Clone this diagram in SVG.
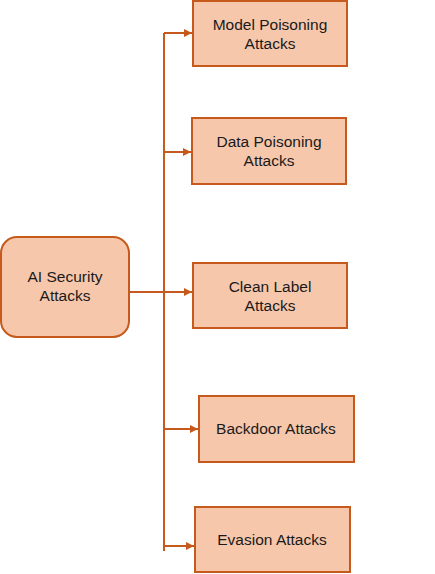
<svg xmlns="http://www.w3.org/2000/svg" width="435" height="574" viewBox="0 0 435 574">
<style>
.box{fill:#F7C7AB;stroke:#C55A1C;stroke-width:2}
.t{font-family:"Liberation Sans",Arial,sans-serif;font-size:15.5px;fill:#1a1a1a;text-anchor:middle}
.c{fill:none;stroke:#C55A1C;stroke-width:2}
</style>
<defs>
<marker id="ah" markerWidth="9" markerHeight="10" refX="8" refY="5" orient="auto" markerUnits="userSpaceOnUse">
<path d="M0,1 L8,5 L0,9 Z" fill="#C55A1C"/>
</marker>
</defs>
<g id="connectors">
<path class="c" d="M164,33 L164,551"/>
<path class="c" d="M164,33 L192,33" marker-end="url(#ah)"/>
<path class="c" d="M164,152 L191,152" marker-end="url(#ah)"/>
<path class="c" d="M129,292 L192,292" marker-end="url(#ah)"/>
<path class="c" d="M164,429 L198,429" marker-end="url(#ah)"/>
<path class="c" d="M164,546 L194,546" marker-end="url(#ah)"/>
</g>
<g id="ai-security">
<rect class="box" x="1" y="237" width="128" height="100" rx="16"/>
<text class="t" x="65" y="282">AI Security</text>
<text class="t" x="65" y="301">Attacks</text>
</g>
<g id="model-poisoning">
<rect class="box" x="193" y="1" width="154" height="65"/>
<text class="t" x="270" y="30">Model Poisoning</text>
<text class="t" x="270" y="49">Attacks</text>
</g>
<g id="data-poisoning">
<rect class="box" x="192" y="118" width="154" height="66"/>
<text class="t" x="269" y="147">Data Poisoning</text>
<text class="t" x="269" y="166">Attacks</text>
</g>
<g id="clean-label">
<rect class="box" x="193" y="263" width="154" height="65"/>
<text class="t" x="270" y="292">Clean Label</text>
<text class="t" x="270" y="311">Attacks</text>
</g>
<g id="backdoor">
<rect class="box" x="199" y="396" width="155" height="66"/>
<text class="t" x="276" y="434">Backdoor Attacks</text>
</g>
<g id="evasion">
<rect class="box" x="195" y="507" width="155" height="65"/>
<text class="t" x="272" y="545">Evasion Attacks</text>
</g>
</svg>
